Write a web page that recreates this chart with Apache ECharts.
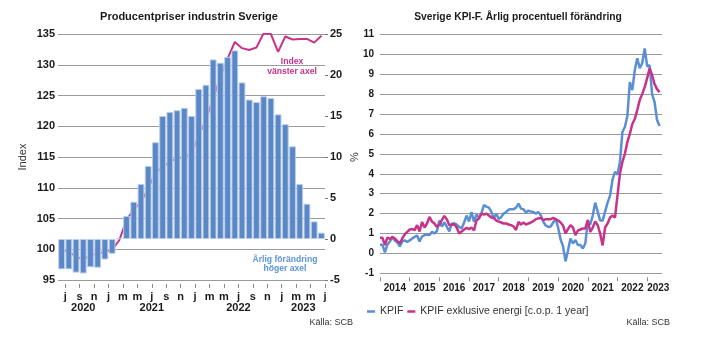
<!DOCTYPE html>
<html>
<head>
<meta charset="utf-8">
<script src="https://cdn.jsdelivr.net/npm/echarts@6/dist/echarts.min.js"></script>
<style>
  html, body { margin: 0; padding: 0; background: #fff; }
  #chart { width: 709px; height: 352px; }
</style>
</head>
<body>
<div id="chart"></div>
<script>
// Producentpriser: juni 2020 - juni 2023
const ppiMonths = [
  '2020-06', '2020-07', '2020-08', '2020-09', '2020-10', '2020-11', '2020-12',
  '2021-01', '2021-02', '2021-03', '2021-04', '2021-05', '2021-06', '2021-07', '2021-08', '2021-09', '2021-10', '2021-11', '2021-12',
  '2022-01', '2022-02', '2022-03', '2022-04', '2022-05', '2022-06', '2022-07', '2022-08', '2022-09', '2022-10', '2022-11', '2022-12',
  '2023-01', '2023-02', '2023-03', '2023-04', '2023-05', '2023-06',
];
// index, vänster axel
const ppiIndex = [
  99.9, 99.6, 98.8, 98.3, 99.0, 99.3, 99.6,
  99.9, 101.5, 104.8, 106.4, 107.7, 109.9, 112.4, 113.4, 114.2, 114.8, 115.0, 115.6,
  118.5, 121.0, 124.5, 128.0, 131.0, 133.7, 132.7, 132.4, 132.8, 135.1, 135.0, 132.1,
  134.6, 134.1, 134.2, 134.2, 133.6, 134.7,
];
// årlig förändring %, höger axel
const ppiChange = [
  -3.7, -3.7, -4.1, -4.2, -3.45, -3.5, -2.5,
  -1.8, 0.1, 2.8, 4.55, 6.7, 8.9, 11.8, 15.0, 15.5, 15.7, 16.0, 15.0,
  18.3, 18.8, 21.9, 21.5, 22.2, 23.0, 19.1, 17.0, 16.7, 17.4, 17.2, 15.2,
  14.0, 11.3, 6.7, 4.3, 2.15, 0.77,
];
// månadsbokstäver vid varannan månadsgräns (jul 2020 ... jul 2023)
const ppiTickLabels = ['j', 's', 'n', 'j', 'm', 'm', 'j', 's', 'n', 'j', 'm', 'm', 'j', 's', 'n', 'j', 'm', 'm', 'j'];
const ppiYears = ['2020', '2021', '2022', '2023'];

// KPIF, jan 2014 - jun 2023, en rad per år
const kpifYears = ['2014', '2015', '2016', '2017', '2018', '2019', '2020', '2021', '2022', '2023'];
const kpif = [
  0.45, 0.42, 0.05, 0.45, 0.6, 0.8, 0.65, 0.55, 0.35, 0.6, 0.65, 0.58,
  0.65, 0.75, 0.83, 0.9, 0.6, 0.85, 0.92, 0.95, 0.92, 1.08, 1.0, 1.12,
  1.65, 1.35, 1.55, 1.35, 1.1, 1.5, 1.5, 1.45, 1.33, 1.25, 1.55, 1.9,
  1.6, 2.08, 1.58, 1.95, 1.8, 2.0, 2.42, 2.35, 2.3, 2.1, 1.75, 2.0,
  1.72, 1.83, 2.0, 2.08, 2.2, 2.22, 2.22, 2.3, 2.5, 2.25, 2.22, 2.05,
  2.15, 2.1, 2.08, 2.0, 2.08, 1.92, 1.6, 1.4, 1.33, 1.35, 1.55, 1.75,
  1.3, 0.7, 0.35, -0.4, 0.15, 0.75, 0.5, 0.67, 0.42, 0.42, 0.25, 0.5,
  1.6, 1.45, 1.9, 2.55, 2.1, 1.65, 1.65, 2.1, 2.55, 2.9, 3.7, 4.1,
  3.95, 4.6, 6.1, 6.35, 6.9, 8.6, 8.2, 9.2, 9.8, 9.3, 9.55, 10.3,
  9.4, 9.45, 8.0, 7.6, 6.7, 6.4,
];
const kpifExEnergy = [
  0.78, 0.78, 0.42, 0.8, 0.72, 0.83, 0.75, 0.62, 0.5, 0.75, 0.95, 1.08,
  1.2, 1.22, 1.17, 1.42, 1.1, 1.58, 1.3, 1.5, 1.83, 1.6, 1.5, 1.33,
  1.45, 1.67, 1.88, 1.72, 1.42, 1.42, 1.48, 1.3, 1.0, 1.1, 1.2, 1.28,
  1.22, 1.3, 1.15, 1.65, 1.75, 2.0, 1.95, 2.0, 1.9, 1.8, 1.78, 1.65,
  1.6, 1.55, 1.5, 1.5, 1.45, 1.42, 1.35, 1.18, 1.58, 1.45, 1.55, 1.45,
  1.5, 1.55, 1.62, 1.72, 1.76, 1.78, 1.67, 1.72, 1.72, 1.72, 1.78, 1.72,
  1.65, 1.55, 1.4, 1.0, 1.22, 1.42, 1.3, 0.92, 1.15, 1.2, 1.25, 1.25,
  1.68, 1.08, 1.3, 1.6, 1.42, 1.0, 0.4, 1.3, 1.5, 1.8, 1.9, 1.8,
  2.9, 4.0, 4.6, 5.0, 5.6, 6.0, 6.5, 6.75, 7.2, 7.7, 8.0, 8.35,
  8.8, 9.3, 8.95, 8.5, 8.25, 8.1,
];

const MAGENTA = '#c8338a';
const BAR_BLUE = '#5a87c6';
const LINE_BLUE = '#5b8fd4';
const GRID_GRAY = '#9a9a9a';
const FONT = 'Liberation Sans, Arial, sans-serif';

// positions of the labels on the hidden value axes
const ppiTickPos = ppiTickLabels.map((_, i) => i * 2 + 1);
const ppiYearPos = ppiYears.map((y) => {
  const idx = ppiMonths.map((m, i) => (m.startsWith(y) ? i : -1)).filter((i) => i >= 0);
  return (idx[0] + idx[idx.length - 1] + 1) / 2;
});
const kpifMax = kpif.length; // 114 months
const kpifTickPos = kpifYears.map((_, i) => i * 12);
const kpifYearPos = kpifYears.map((_, i) => Math.min(i * 12 + 6, kpifMax - 1.5));

const boldLabel = (size) => ({ fontFamily: FONT, fontWeight: 'bold', fontSize: size, color: '#1a1a1a' });
const noLine = { show: false, onZero: false };

const chart = echarts.init(document.getElementById('chart'));
chart.setOption({
  animation: false,
  textStyle: { fontFamily: FONT },
  grid: [
    { left: 58, right: 384, top: 34, bottom: 72 },
    { left: 380, right: 47, top: 34.4, bottom: 78.7 },
  ],
  xAxis: [
    { // bars / index
      type: 'category', gridIndex: 0, data: ppiMonths, show: false, position: 'bottom',
      axisLine: noLine,
    },
    { // month letters
      type: 'value', gridIndex: 0, min: 0, max: ppiMonths.length, position: 'bottom', offset: 4,
      axisLine: noLine, splitLine: { show: false },
      axisTick: { show: true, customValues: ppiTickPos, length: 4, lineStyle: { color: '#888' } },
      axisLabel: {
        customValues: ppiTickPos, margin: 7, ...boldLabel(11),
        formatter: (v) => ppiTickLabels[(v - 1) / 2],
      },
    },
    { // years
      type: 'value', gridIndex: 0, min: 0, max: ppiMonths.length, position: 'bottom', offset: 14,
      axisLine: noLine, splitLine: { show: false }, axisTick: { show: false },
      axisLabel: {
        customValues: ppiYearPos, margin: 8, ...boldLabel(11),
        formatter: (v) => ppiYears[ppiYearPos.indexOf(v)],
      },
    },
    { // KPIF data / year ticks
      type: 'value', gridIndex: 1, min: 0, max: kpifMax, position: 'bottom', offset: 4,
      axisLine: noLine, splitLine: { show: false },
      axisTick: { show: true, customValues: kpifTickPos, length: 4, lineStyle: { color: '#888' } },
      axisLabel: { show: false },
    },
    { // KPIF year labels
      type: 'value', gridIndex: 1, min: 0, max: kpifMax, position: 'bottom', offset: 2,
      axisLine: noLine, splitLine: { show: false }, axisTick: { show: false },
      axisLabel: {
        customValues: kpifYearPos, margin: 8, ...boldLabel(10),
        formatter: (v) => kpifYears[kpifYearPos.indexOf(v)],
      },
    },
  ],
  yAxis: [
    {
      type: 'value', gridIndex: 0, min: 95, max: 135, interval: 5, position: 'left',
      axisLine: noLine, axisTick: { show: false },
      axisLabel: { margin: 3, ...boldLabel(11) },
      splitLine: { lineStyle: { color: GRID_GRAY, width: 1 } },
      name: 'Index', nameLocation: 'middle', nameGap: 30,
      nameTextStyle: { fontFamily: FONT, fontSize: 11, color: '#333' },
    },
    {
      type: 'value', gridIndex: 0, min: -5, max: 25, interval: 5, position: 'right',
      axisLine: noLine,
      axisTick: { show: true, length: 3, lineStyle: { color: '#777' } },
      axisLabel: { margin: 5, ...boldLabel(11) },
      splitLine: { show: false },
      name: '%', nameLocation: 'middle', nameGap: 24, nameRotate: 90,
      nameTextStyle: { fontFamily: FONT, fontSize: 11, color: '#333' },
    },
    {
      type: 'value', gridIndex: 1, min: -1, max: 11, interval: 1, position: 'left',
      axisLine: noLine, axisTick: { show: false },
      axisLabel: { margin: 6, ...boldLabel(10) },
      splitLine: { lineStyle: { color: GRID_GRAY, width: 1 } },
    },
  ],
  legend: {
    data: ['KPIF', 'KPIF exklusive energi [c.o.p. 1 year]'],
    left: 362, top: 301, icon: 'rect', itemWidth: 8, itemHeight: 2.5, itemGap: 4,
    textStyle: { fontFamily: FONT, fontSize: 10.5, color: '#333' },
  },
  series: [
    {
      name: 'Index', type: 'line', xAxisIndex: 0, yAxisIndex: 0, data: ppiIndex,
      symbol: 'none', z: 1, lineStyle: { color: MAGENTA, width: 2 }, itemStyle: { color: MAGENTA },
    },
    {
      name: 'Årlig förändring', type: 'bar', xAxisIndex: 0, yAxisIndex: 1, data: ppiChange,
      z: 2, barCategoryGap: '6%',
      itemStyle: { color: BAR_BLUE, borderColor: '#b9cdea', borderWidth: 1 },
    },
    {
      name: 'KPIF', type: 'line', xAxisIndex: 3, yAxisIndex: 2,
      data: kpif.map((v, i) => [i, v]),
      symbol: 'none', lineStyle: { color: LINE_BLUE, width: 2.5 }, itemStyle: { color: LINE_BLUE },
    },
    {
      name: 'KPIF exklusive energi [c.o.p. 1 year]', type: 'line', xAxisIndex: 3, yAxisIndex: 2,
      data: kpifExEnergy.map((v, i) => [i, v]),
      symbol: 'none', lineStyle: { color: MAGENTA, width: 2.5 }, itemStyle: { color: MAGENTA },
    },
  ],
  graphic: [
    { type: 'text', style: { text: 'Producentpriser industrin Sverige', x: 189, y: 17, align: 'center', verticalAlign: 'middle', font: 'bold 11px ' + FONT, fill: '#1a1a1a' } },
    { type: 'text', style: { text: 'Sverige KPI-F. Årlig procentuell förändring', x: 518, y: 17, align: 'center', verticalAlign: 'middle', font: 'bold 10.3px ' + FONT, fill: '#1a1a1a' } },
    { type: 'text', z: 10, style: { text: 'Index\nvänster axel', x: 292, y: 66.5, align: 'center', verticalAlign: 'middle', lineHeight: 9.5, font: 'bold 8.6px ' + FONT, fill: MAGENTA } },
    { type: 'text', z: 10, style: { text: 'Årlig förändring\nhöger axel', x: 285, y: 264, align: 'center', verticalAlign: 'middle', lineHeight: 9.5, font: 'bold 8.6px ' + FONT, fill: '#5d93da' } },
    { type: 'text', style: { text: 'Källa: SCB', x: 353, y: 323, align: 'right', verticalAlign: 'middle', font: '9px ' + FONT, fill: '#333' } },
    { type: 'text', style: { text: 'Källa: SCB', x: 670, y: 323, align: 'right', verticalAlign: 'middle', font: '9px ' + FONT, fill: '#333' } },
  ],
});
</script>
</body>
</html>
